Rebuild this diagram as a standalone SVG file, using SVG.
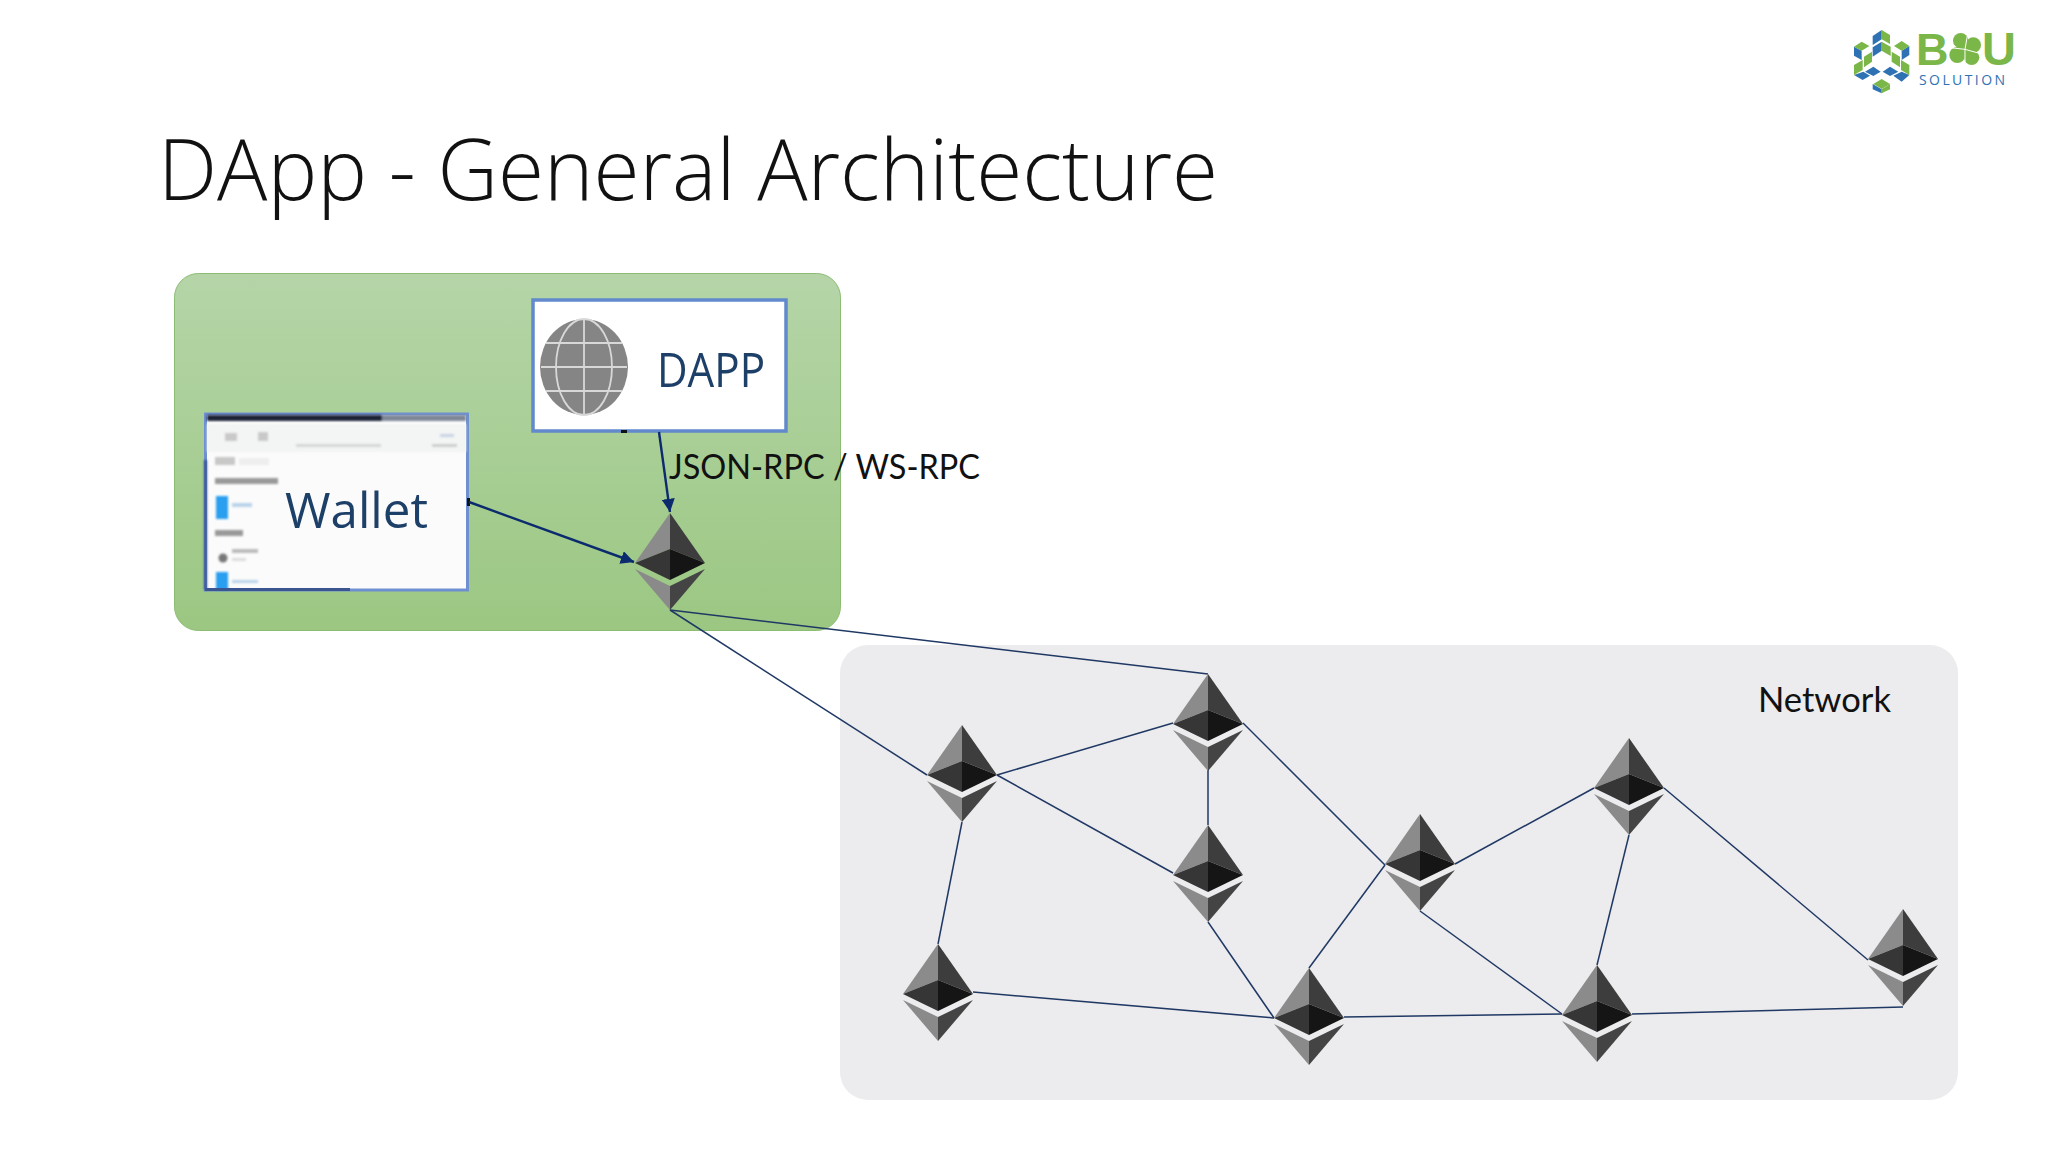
<svg xmlns="http://www.w3.org/2000/svg" width="2048" height="1152" viewBox="0 0 2048 1152">
<style>
.t{font-family:"Lato","Liberation Sans",sans-serif;fill:#111}
.h{font-family:"Open Sans","Liberation Sans",sans-serif;fill:#111}
.img{font-family:"Open Sans","Liberation Sans",sans-serif;fill:#1f3f68;font-weight:500}
.c line{stroke:#1f3864;stroke-width:1.5}
.a line{stroke:#0c2a6e;stroke-width:2.4}
</style>
<defs>
<linearGradient id="g" x1="0" y1="0" x2="0" y2="1"><stop offset="0" stop-color="#b5d5a8"/><stop offset="1" stop-color="#9bc782"/></linearGradient>
<filter id="b" x="-5%" y="-5%" width="110%" height="110%"><feGaussianBlur stdDeviation="0.9"/></filter>
<filter id="s" x="-5%" y="-10%" width="110%" height="120%"><feGaussianBlur stdDeviation="0.5"/></filter>
<marker id="ah" viewBox="0 0 10 10" refX="10" refY="5" markerWidth="5.5" markerHeight="5.500" orient="auto"><path d="M0 0L10 5L0 10z" fill="#0c2a6e"/></marker>
<symbol id="eth" overflow="visible" viewBox="-36 0 72 98" width="72" height="98">
<polygon points="0,0 -35,50 0,36" fill="#8b8b8b"/>
<polygon points="0,0 35,50 0,36" fill="#3d3d3d"/>
<polygon points="-35,50 0,36 0,67" fill="#363636"/>
<polygon points="35,50 0,36 0,67" fill="#151515"/>
<polygon points="-35,56 0,73 0,97" fill="#8a8a8a"/>
<polygon points="35,56 0,73 0,97" fill="#444"/>
</symbol>
</defs>
<rect width="2048" height="1152" fill="#fff"/>
<text id="title" class="h" x="158" y="200" font-size="85" font-weight="300" textLength="1060" lengthAdjust="spacingAndGlyphs">DApp - General Architecture</text>
<g id="logo">
<g transform="translate(1840 10) scale(.3333)">
<g fill="#2f72b3"><polygon points="98,78 125,60 125,88 98,105"/><polygon points="98,112 125,95 125,122 98,140"/><polygon points="42,110 65,122 65,150 42,137"/><polygon points="185,122 208,108 208,135 185,150"/><polygon points="75,185 100,170 122,185 100,198"/><polygon points="128,185 150,170 175,185 150,198"/><polygon points="42,195 68,210 90,197 70,185"/><polygon points="160,197 185,185 208,195 185,215"/><polygon points="98,222 125,238 125,250 98,238"/></g>
<g fill="#7ab648"><polygon points="125,60 150,75 150,102 125,88"/><polygon points="125,95 152,110 152,138 125,122"/><polygon points="42,110 65,95 88,108 65,122"/><polygon points="162,108 185,93 208,108 185,122"/><polygon points="42,165 68,150 68,180 42,195"/><polygon points="72,140 96,125 96,155 72,172"/><polygon points="155,125 180,140 180,172 155,155"/><polygon points="183,150 208,165 208,195 183,180"/><polygon points="100,222 125,207 150,222 125,237"/><polygon points="125,238 150,222 150,238 125,250"/></g>
<g fill="#7ab648"><circle cx="362" cy="92" r="23"/><circle cx="400" cy="105" r="23"/><circle cx="395" cy="142" r="23"/><circle cx="352" cy="135" r="24"/><circle cx="375" cy="118" r="18"/></g>
<g stroke="#fff" stroke-width="3"><line x1="375" y1="118" x2="383" y2="72"/><line x1="375" y1="118" x2="418" y2="130"/><line x1="375" y1="118" x2="375" y2="165"/><line x1="375" y1="118" x2="330" y2="113"/></g>
</g>
<text x="1916" y="65" font-family="Liberation Sans, sans-serif" font-weight="700" font-size="45" fill="#7ab648">B</text>
<text x="1982" y="65" font-family="Liberation Sans, sans-serif" font-weight="700" font-size="47" fill="#7ab648">U</text>
<text x="1919" y="85" font-family="Open Sans, sans-serif" font-size="14" fill="#2f72b3" textLength="86">SOLUTION</text>
</g>
<g id="client-box"><rect x="174.500" y="273.500" width="666" height="357" rx="24" fill="url(#g)" stroke="#8cbc72" stroke-width="1"/></g>
<g id="network-box"><rect x="840" y="645" width="1118" height="455" rx="28" fill="#ecebed"/><text class="t" x="1758" y="712" font-size="34" textLength="133" lengthAdjust="spacingAndGlyphs">Network</text></g>
<g id="dapp">
<rect x="533" y="300" width="253" height="131" fill="#fff" stroke="#6289cc" stroke-width="3.500"/>
<rect x="621" y="430" width="6" height="3" fill="#111"/>
<g filter="url(#s)">
<ellipse cx="584" cy="367" rx="44" ry="48" fill="#858585"/>
<g fill="none" stroke="#d8d8d8" stroke-width="1.800">
<ellipse cx="584" cy="367" rx="28" ry="48"/><line x1="584" y1="319" x2="584" y2="415"/><line x1="541" y1="367" x2="627" y2="367"/><line x1="546" y1="343" x2="622" y2="343"/><line x1="546" y1="391" x2="622" y2="391"/>
</g>
<text class="img" x="657" y="387" font-size="48" textLength="108" lengthAdjust="spacingAndGlyphs">DAPP</text>
</g>
</g>
<g id="wallet">
<rect x="205.500" y="414" width="262" height="176" fill="#fbfbfb" stroke="#6f90d0" stroke-width="3"/>
<g filter="url(#b)">
<rect x="207" y="415" width="175" height="6" fill="#1c2238"/>
<rect x="382" y="415" width="84" height="6" fill="#7d8798"/>
<rect x="207" y="424" width="259" height="28" fill="#f3f4f4"/>
<rect x="225" y="433" width="12" height="8" fill="#c9c9c9"/>
<rect x="258" y="432" width="10" height="9" fill="#c9c9c9"/>
<rect x="296" y="444" width="85" height="3" fill="#d5d5d5"/>
<rect x="440" y="434" width="14" height="3" fill="#c8d4e4"/>
<rect x="432" y="444" width="25" height="3" fill="#cccccc"/>
<rect x="215" y="457" width="20" height="8" fill="#c8c8c8"/>
<rect x="239" y="458" width="30" height="7" fill="#eeeeee"/>
<rect x="215" y="478" width="63" height="6" fill="#9a9a9a"/>
<rect x="216" y="496" width="12" height="23" fill="#2a9ff0"/>
<rect x="232" y="503" width="20" height="4" fill="#b9d3ea"/>
<rect x="215" y="530" width="28" height="6" fill="#9a9a9a"/>
<circle cx="223" cy="558" r="4.500" fill="#777"/>
<rect x="232" y="549" width="26" height="4" fill="#bbb"/>
<rect x="232" y="558" width="14" height="3" fill="#ddd"/>
<rect x="216" y="572" width="12" height="18" fill="#2a9ff0"/>
<rect x="232" y="580" width="26" height="3" fill="#b9d3ea"/>
<rect x="204" y="460" width="3" height="130" fill="#3a5590"/>
</g>
<rect x="205" y="588" width="145" height="3" fill="#3a5590"/>
<rect x="467" y="498" width="3" height="8" fill="#111"/>
<text class="img" x="285" y="528" font-size="50" textLength="143" lengthAdjust="spacingAndGlyphs" filter="url(#s)">Wallet</text>
</g>
<g id="connectors">
<g class="c">
<line x1="670" y1="610" x2="927" y2="775"/><line x1="670" y1="610" x2="1208" y2="674"/>
<line x1="997" y1="775" x2="1173" y2="723"/><line x1="997" y1="775" x2="1173" y2="873"/>
<line x1="962" y1="822" x2="938" y2="944"/><line x1="1208" y1="770" x2="1208" y2="825"/>
<line x1="1208" y1="922" x2="1274" y2="1018"/><line x1="1243" y1="723" x2="1385" y2="865"/>
<line x1="1455" y1="864" x2="1594" y2="788"/><line x1="1664" y1="788" x2="1868" y2="960"/>
<line x1="1420" y1="911" x2="1562" y2="1014"/><line x1="1629" y1="835" x2="1597" y2="965"/>
<line x1="1385" y1="865" x2="1309" y2="968"/><line x1="973" y1="992" x2="1274" y2="1018"/>
<line x1="1344" y1="1017" x2="1562" y2="1014"/><line x1="1632" y1="1014" x2="1903" y2="1007"/>
</g>
<g class="a">
<line x1="659" y1="432" x2="670" y2="512" marker-end="url(#ah)"/>
<line x1="469" y1="502" x2="634" y2="562" marker-end="url(#ah)"/>
</g>
</g>
<text id="rpc" class="t" x="669" y="479" font-size="34" textLength="311" lengthAdjust="spacingAndGlyphs">JSON-RPC / WS-RPC</text>
<g id="eth-client"><use href="#eth" x="634" y="513"/></g>
<g id="eth-a"><use href="#eth" x="926" y="725"/></g>
<g id="eth-b"><use href="#eth" x="1172" y="674"/></g>
<g id="eth-c"><use href="#eth" x="1172" y="825"/></g>
<g id="eth-d"><use href="#eth" x="902" y="944"/></g>
<g id="eth-e"><use href="#eth" x="1273" y="968"/></g>
<g id="eth-f"><use href="#eth" x="1384" y="814"/></g>
<g id="eth-g"><use href="#eth" x="1593" y="738"/></g>
<g id="eth-h"><use href="#eth" x="1561" y="965"/></g>
<g id="eth-i"><use href="#eth" x="1867" y="909"/></g>
</svg>
